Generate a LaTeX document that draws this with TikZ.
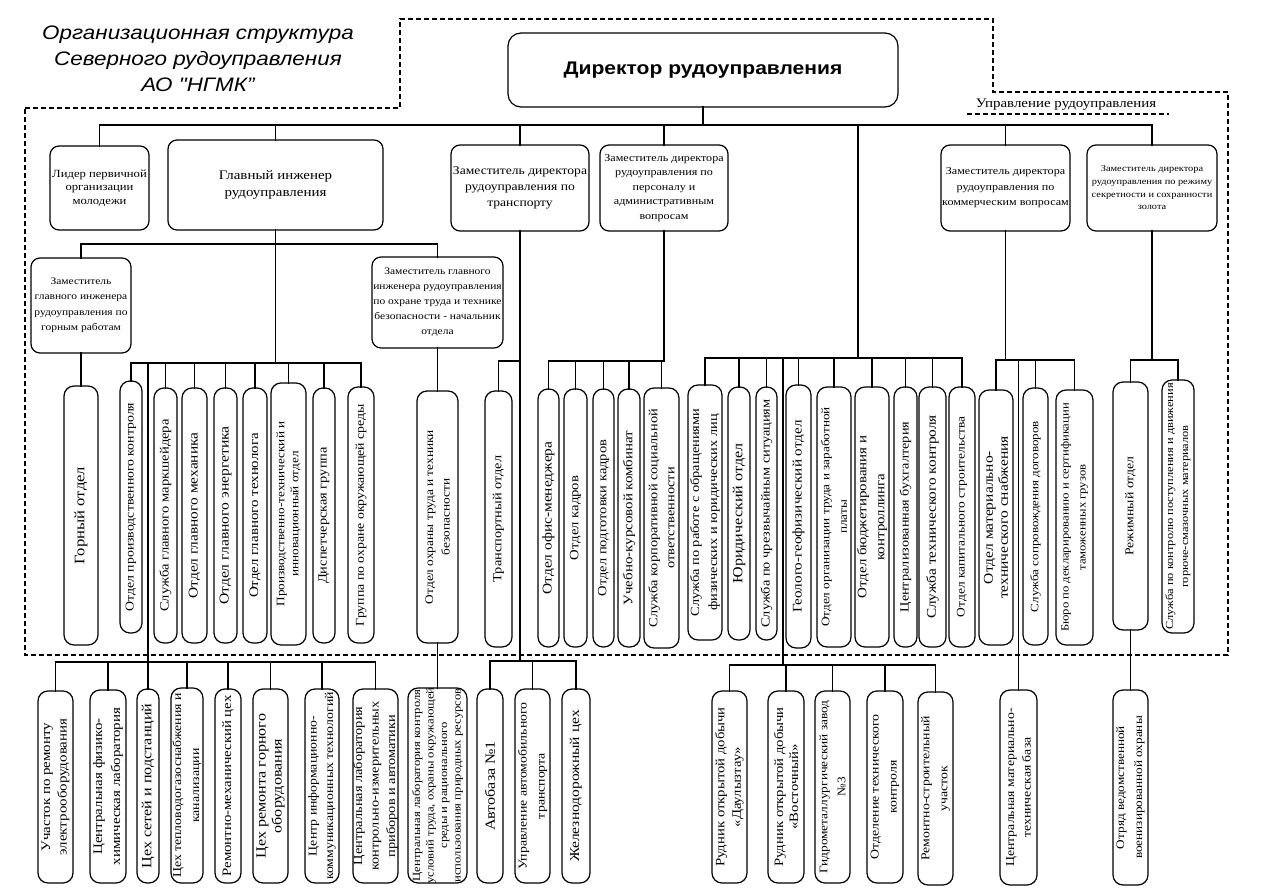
\documentclass[tikz,border=0pt]{standalone}
\usepackage{fontspec}
\setmainfont{Liberation Serif}[FakeStretch=1.15]
\newfontfamily\sansfam{Liberation Sans}[FakeStretch=1.15]
\newcommand{\FS}[2]{\fontsize{#1pt}{#2pt}\selectfont}
\tikzset{
 bx/.style={draw, line width=1.2pt, inner sep=0pt, outer sep=0pt, rounded corners=9pt},
 vt/.style={rotate=90, align=center, inner sep=0pt},
 ht/.style={align=center, inner sep=0pt},
 ln/.style={line width=1.2pt, line cap=rect},
 dsh/.style={line width=1.2pt, dash pattern=on 5pt off 3pt},
}
\newcommand{\VB}[8]{%
 \node[bx, rounded corners=10pt, minimum width={(#3-#2)*1pt}, minimum height={(#5-#4)*1pt}] (#1) at ({(#2+#3)/2},{(#4+#5)/2}) {};
 \node[vt, font=\FS{#6}{#7}] (#1t) at (#1.center) {#8};}
\newcommand{\HB}[8]{%
 \node[bx, minimum width={(#3-#2)*1pt}, minimum height={(#5-#4)*1pt}] (#1) at ({(#2+#3)/2},{(#4+#5)/2}) {};
 \node[ht, font=\FS{#6}{#7}] (#1t) at (#1.center) {#8};}
\begin{document}
\begin{tikzpicture}[x=1pt,y=-1pt]
\useasboundingbox (0,0) rectangle (1262,893);
% frame
\draw[dsh] (25,108) -- (400,108) -- (400,19) -- (993,19) -- (993,92) -- (1228,92) -- (1228,655) -- (25,655) -- cycle;
% title
\node[ht, font=\sansfam\itshape\FS{19.5}{26}] (title) at (198,59) {Организационная структура\\Северного рудоуправления\\АО "НГМК”};
\node[bx, rounded corners=13pt, minimum width=390pt, minimum height=74pt, font=\sansfam\bfseries\FS{18.3}{22}] (dir) at (703,70) {Директор рудоуправления};
\node[ht, font=\FS{13}{14}] (upr) at (1066,105) {Управление рудоуправления};
\draw[dsh] (967,114) -- (1169,114);
% top row
\HB{lid}{50}{149}{146}{230}{11}{13.5}{Лидер первичной\\организации\\молодежи}
\HB{gi}{168}{383}{140}{230}{13}{17.5}{Главный инженер\\рудоуправления}
\HB{zt}{451}{589}{145}{231}{11.8}{15.7}{Заместитель директора\\рудоуправления по\\транспорту}
\HB{zp}{600}{728}{145}{231}{10.5}{14.5}{Заместитель директора\\рудоуправления по\\персоналу и\\административным\\вопросам}
\HB{zk}{941}{1070}{145}{231}{10.5}{15.5}{Заместитель директора\\рудоуправления по\\коммерческим вопросам}
\HB{zr}{1087}{1217}{145}{231}{9}{12.7}{Заместитель директора\\рудоуправления по режиму\\секретности и сохранности\\золота}
\HB{zg}{31}{131}{258}{353}{10}{15.5}{Заместитель\\главного инженера\\рудоуправления по\\горным работам}
\HB{zo}{372}{503}{257}{348}{10}{15}{Заместитель главного\\инженера рудоуправления\\по охране труда и технике\\безопасности - начальник\\отдела}
% row 1
\VB{gornyi}{64}{98}{386}{645}{14.5}{14.5}{Горный отдел}
\VB{opk}{120}{142}{381}{633}{12}{12}{Отдел производственного контроля}
\VB{marksh}{154}{177}{388}{643}{12.7}{12.7}{Служба главного маркшейдера}
\VB{mech}{182}{207}{388}{643}{13.4}{13.4}{Отдел главного механика}
\VB{energ}{214}{237}{388}{643}{13.6}{13.6}{Отдел главного энергетика}
\VB{techn}{243}{267}{388}{643}{13}{13}{Отдел главного технолога}
\VB{pto}{271}{306}{383}{645}{11.5}{14}{Производственно-технический и\\инновационный отдел}
\VB{disp}{313}{335}{388}{643}{12.5}{12.5}{Диспетчерская группа}
\VB{eco}{348}{374}{387}{643}{12}{12}{Группа по охране окружающей среды}
\VB{ohr}{417}{458}{391}{643}{11.6}{16.5}{Отдел охраны труда и техники\\безопасности}
\VB{trot}{485}{512}{391}{647}{12.5}{12.5}{Транспортный отдел}
\VB{ofis}{538}{559}{389}{647}{13.4}{13.4}{Отдел офис-менеджера}
\VB{kadr}{564}{587}{389}{647}{12.8}{12.8}{Отдел кадров}
\VB{podg}{593}{614}{389}{647}{12.6}{12.6}{Отдел подготовки кадров}
\VB{ukk}{618}{640}{389}{647}{13}{13}{Учебно-курсовой комбинат}
\VB{kso}{644}{679}{388}{648}{12.5}{17}{Служба корпоративной социальной\\ответственности}
\VB{obr}{688}{722}{385}{640}{12.5}{18}{Служба по работе с обращениями\\физических и юридических лиц}
\VB{jur}{728}{750}{387}{640}{14}{14}{Юридический отдел}
\VB{chs}{756}{777}{387}{640}{12.5}{12.5}{Служба по чрезвычайным ситуациям}
\VB{geo}{786}{811}{385}{648}{13.2}{13.2}{Геолого-геофизический отдел}
\VB{otiz}{817}{851}{387}{647}{11.5}{17.5}{Отдел организации труда и заработной\\платы}
\VB{budg}{855}{889}{387}{647}{13}{18}{Отдел бюджетирования и\\контроллинга}
\VB{cb}{894}{917}{387}{647}{12.4}{12.4}{Централизованная бухгалтерия}
\VB{stk}{919}{946}{387}{647}{13.3}{13.3}{Служба технического контроля}
\VB{oks}{949}{975}{387}{647}{11.7}{11.7}{Отдел капитального строительства}
\VB{omts}{979}{1013}{390}{645}{13.5}{15}{Отдел материально-\\технического снабжения}
\VB{ssd}{1023}{1048}{388}{645}{11.3}{11.3}{Служба сопровождения договоров}
\VB{buro}{1056}{1093}{390}{645}{11}{17}{Бюро по декларированию и сертификации\\таможенных грузов}
\VB{rezh}{1113}{1148}{382}{630}{12}{12}{Режимный отдел}
\VB{gsm}{1162}{1194}{380}{633}{10.8}{15}{Служба по контролю поступления и движения\\горюче-смазочных материалов}
% bottom row
\VB{uch}{38}{73}{691}{883}{13}{16.5}{Участок по ремонту\\электрооборудования}
\VB{cfhl}{90}{126}{690}{883}{13}{18}{Центральная физико-\\химическая лаборатория}
\VB{cseti}{137}{159}{689}{883}{14}{14}{Цех сетей и подстанций}
\VB{ctv}{171}{203}{688}{883}{12}{18}{Цех тепловодогазоснабжения и\\канализации}
\VB{rmc}{215}{241}{689}{883}{12.9}{12.9}{Ремонтно-механический цех}
\VB{crgo}{253}{288}{689}{883}{14}{16}{Цех ремонта горного\\оборудования}
\VB{cikt}{305}{339}{689}{883}{12}{16.5}{Центр информационно-\\коммуникационных технологий}
\VB{clkip}{353}{398}{689}{883}{12.5}{16.5}{Центральная лаборатория\\контрольно-измерительных\\приборов и автоматики}
\VB{clk}{408}{467}{688}{883}{11}{13.5}{Центральная лаборатория контроля\\условий труда, охраны окружающей\\среды и рационального\\использования природных ресурсов}
\VB{avt}{477}{503}{689}{883}{14}{14}{Автобаза №1}
\VB{uat}{515}{550}{689}{883}{12}{18}{Управление автомобильного\\транспорта}
\VB{zhd}{562}{590}{689}{883}{13.5}{13.5}{Железнодорожный цех}
\VB{rud1}{712}{747}{691}{883}{12.8}{16.5}{Рудник открытой добычи\\«Даулызтау»}
\VB{rud2}{768}{804}{691}{883}{12.8}{15}{Рудник открытой добычи\\«Восточный»}
\VB{gmz}{815}{850}{691}{883}{11.6}{18}{Гидрометаллургический завод\\№3}
\VB{otk}{867}{903}{691}{883}{12}{18}{Отделение технического\\контроля}
\VB{rsu}{918}{953}{692}{885}{12}{18}{Ремонтно-строительный\\участок}
\VB{cmtb}{1000}{1037}{690}{885}{12}{16.5}{Центральная материально-\\техническая база}
\VB{ovo}{1113}{1148}{690}{885}{11.5}{18}{Отряд ведомственной\\военизированной охраны}
% connectors: director
\coordinate (B0) at (0,125);
\draw[ln] (dir.south) -- (dir.south |- B0);
\draw[ln] (lid.north |- B0) -- (zr.north |- B0);
\foreach \n in {lid,gi,zt,zp,zk,zr} \draw[ln] (\n.north) -- (\n.north |- B0);
\coordinate (M0) at (858,125);
\coordinate (M1) at (858,358);
\draw[ln] (M0) -- (M1);
% chief engineer
\coordinate (B1) at (0,244);
\coordinate (B2) at (0,363);
\coordinate (B3) at (0,662);
\draw[ln] (gi.south) -- (gi.south |- B2);
\draw[ln] (zg.north |- B1) -- (zo.north |- B1);
\foreach \n in {zg,zo} \draw[ln] (\n.north) -- (\n.north |- B1);
\draw[ln] (zg.south) -- (zg.south |- gornyi.north);
\draw[ln] (opk.north |- B2) -- (eco.north |- B2);
\foreach \n in {opk,marksh,mech,energ,techn,pto,disp,eco} \draw[ln] (\n.north) -- (\n.north |- B2);
\draw[ln] (cseti.north) -- (cseti.north |- B2);
\draw[ln] (uch.north |- B3) -- (clkip.north |- B3);
\foreach \n in {uch,cfhl,ctv,rmc,crgo,cikt,clkip} \draw[ln] (\n.north) -- (\n.north |- B3);
\draw[ln] (zo.south) -- (ohr.north);
\draw[ln] (ohr.south) -- (clk.north);
% transport
\coordinate (BT) at (0,361);
\coordinate (BTB) at (0,661);
\draw[ln] (zt.south) -- (zt.south |- BTB);
\draw[ln] (trot.north) -- (trot.north |- BT) -- (zt.south |- BT);
\draw[ln] (avt.north |- BTB) -- (zhd.north |- BTB);
\foreach \n in {avt,uat,zhd} \draw[ln] (\n.north) -- (\n.north |- BTB);
% personnel
\draw[ln] (zp.south) -- (zp.south |- BT);
\draw[ln] (ofis.north |- BT) -- (zp.south |- BT);
\foreach \n in {ofis,kadr,podg,ukk,kso} \draw[ln] (\n.north) -- (\n.north |- BT);
% middle group
\coordinate (BM) at (0,358);
\draw[ln] (obr.north |- BM) -- (oks.north |- BM);
\foreach \n in {obr,jur,chs,geo,otiz,budg,cb,stk,oks} \draw[ln] (\n.north) -- (\n.north |- BM);
\coordinate (L1) at (783,358);
\coordinate (BR) at (0,665);
\draw[ln] (L1) -- (L1 |- BR);
\draw[ln] (rud1.north |- BR) -- (rsu.north |- BR);
\foreach \n in {rud1,rud2,gmz,otk,rsu} \draw[ln] (\n.north) -- (\n.north |- BR);
% commercial
\coordinate (BK) at (0,360);
\draw[ln] (zk.south) -- (zk.south |- BK);
\draw[ln] (omts.north |- BK) -- (buro.north |- BK);
\foreach \n in {omts,ssd,buro} \draw[ln] (\n.north) -- (\n.north |- BK);
\draw[ln] (cmtb.north) -- (cmtb.north |- BK);
% regime
\draw[ln] (zr.south) -- (zr.south |- BK);
\draw[ln] (rezh.north |- BK) -- (gsm.north |- BK);
\foreach \n in {rezh,gsm} \draw[ln] (\n.north) -- (\n.north |- BK);
\draw[ln] (rezh.south) -- (ovo.north);
\end{tikzpicture}
\end{document}
